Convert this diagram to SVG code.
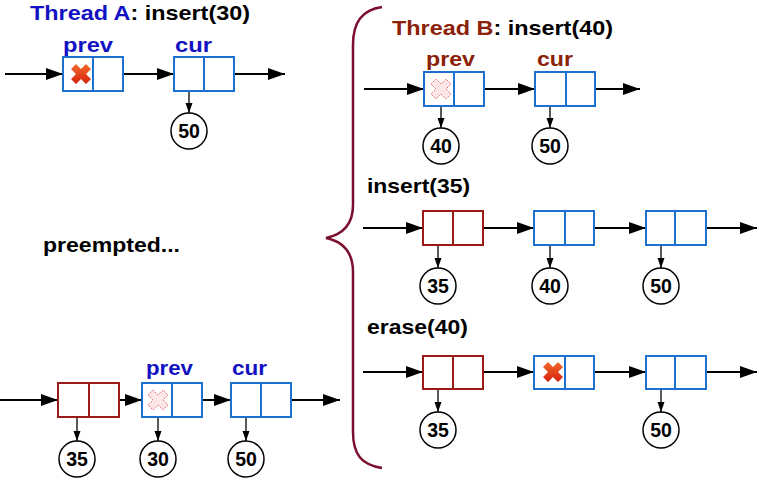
<svg xmlns="http://www.w3.org/2000/svg" width="763" height="484" viewBox="0 0 763 484">
<defs>
<style>
.t{font-family:"Liberation Sans",Arial,sans-serif;font-weight:bold;font-size:21px;fill:#000}
.ta{fill:#1212c4}
.tb{fill:#8b2208}
.num{font-family:"Liberation Sans",Arial,sans-serif;font-weight:bold;font-size:19.5px;fill:#000;text-anchor:middle}
.bb{fill:#fff;stroke:#1b70d0;stroke-width:2}
.rb{fill:#fff;stroke:#9a1a1a;stroke-width:2}
.ln{fill:none;stroke:#000;stroke-width:1.8;marker-end:url(#ah)}
.dn{fill:none;stroke:#000;stroke-width:1.3;marker-end:url(#sh)}
.c{fill:#fff;stroke:#000;stroke-width:1.5}
.xr{fill:url(#xg)}
.xl{fill:#fde6e6;stroke:#e07070;stroke-width:1;stroke-dasharray:1.5,1}
</style>
<linearGradient id="xg" x1="0" y1="0" x2="0" y2="1">
<stop offset="0" stop-color="#f46a2a"/>
<stop offset="1" stop-color="#d3200f"/>
</linearGradient>
<marker id="ah" markerUnits="userSpaceOnUse" markerWidth="18" markerHeight="13" refX="17" refY="6" orient="auto">
<path d="M0,0 L17,6 L0,12 z" fill="#000"/>
</marker>
<marker id="sh" markerUnits="userSpaceOnUse" markerWidth="11" markerHeight="8" refX="10" refY="3.5" orient="auto">
<path d="M0,0 L10,3.5 L0,7 z" fill="#000"/>
</marker>
<path id="xm" d="M-10,-5 L-5,-10 L0,-5 L5,-10 L10,-5 L5,0 L10,5 L5,10 L0,5 L-5,10 L-10,5 L-5,0 z"/>
</defs>
<rect width="763" height="484" fill="#fff"/>

<g id="labels">
<text class="t" x="30" y="20" textLength="220" lengthAdjust="spacingAndGlyphs"><tspan class="ta">Thread A</tspan>: insert(30)</text>
<text class="t" x="392" y="35" textLength="221" lengthAdjust="spacingAndGlyphs"><tspan class="tb">Thread B</tspan>: insert(40)</text>
<text class="t" x="367" y="193" textLength="103" lengthAdjust="spacingAndGlyphs">insert(35)</text>
<text class="t" x="367" y="334" textLength="101" lengthAdjust="spacingAndGlyphs">erase(40)</text>
<text class="t" x="43" y="252" textLength="137" lengthAdjust="spacingAndGlyphs">preempted...</text>
<text class="t ta" x="63" y="52" textLength="50" lengthAdjust="spacingAndGlyphs">prev</text>
<text class="t ta" x="175" y="52" textLength="37" lengthAdjust="spacingAndGlyphs">cur</text>
<text class="t tb" x="426" y="66" textLength="49" lengthAdjust="spacingAndGlyphs">prev</text>
<text class="t tb" x="537" y="66" textLength="36" lengthAdjust="spacingAndGlyphs">cur</text>
<text class="t ta" x="146" y="375" textLength="47" lengthAdjust="spacingAndGlyphs">prev</text>
<text class="t ta" x="232" y="375" textLength="35" lengthAdjust="spacingAndGlyphs">cur</text>
</g>

<g id="brace">
<path d="M382,7 C362,10 353,22 353,45 L353,205 C353,222 345,234 326,238 C345,242 353,254 353,272 L353,432 C353,455 362,465 382,468" fill="none" stroke="#7a0f2e" stroke-width="2.5"/>
</g>

<g id="connectors">
<line class="ln" x1="5" y1="74" x2="63" y2="74"/>
<line class="ln" x1="110" y1="74" x2="174" y2="74"/>
<line class="ln" x1="221" y1="74" x2="285" y2="74"/>
<line class="dn" x1="189" y1="91" x2="189" y2="113"/>
<line class="ln" x1="364" y1="89" x2="424" y2="89"/>
<line class="ln" x1="470" y1="89" x2="535" y2="89"/>
<line class="ln" x1="582" y1="89" x2="640" y2="89"/>
<line class="dn" x1="441" y1="106" x2="441" y2="128"/>
<line class="dn" x1="550" y1="106" x2="550" y2="128"/>
<line class="ln" x1="363" y1="228" x2="423" y2="228"/>
<line class="ln" x1="470" y1="228" x2="534" y2="228"/>
<line class="ln" x1="580" y1="228" x2="646" y2="228"/>
<line class="ln" x1="692" y1="228" x2="757" y2="228"/>
<line class="dn" x1="438" y1="245" x2="438" y2="268"/>
<line class="dn" x1="550" y1="245" x2="550" y2="268"/>
<line class="dn" x1="661" y1="245" x2="661" y2="268"/>
<line class="ln" x1="363" y1="372" x2="423" y2="372"/>
<line class="ln" x1="470" y1="372" x2="534" y2="372"/>
<line class="ln" x1="580" y1="372" x2="646" y2="372"/>
<line class="ln" x1="692" y1="372" x2="757" y2="372"/>
<line class="dn" x1="438" y1="389" x2="438" y2="412"/>
<line class="dn" x1="661" y1="389" x2="661" y2="412"/>
<line class="ln" x1="0" y1="400" x2="58" y2="400"/>
<line class="ln" x1="104" y1="400" x2="142" y2="400"/>
<line class="ln" x1="186" y1="400" x2="231" y2="400"/>
<line class="ln" x1="277" y1="400" x2="340" y2="400"/>
<line class="dn" x1="77" y1="417" x2="77" y2="441"/>
<line class="dn" x1="158" y1="417" x2="158" y2="441"/>
<line class="dn" x1="246" y1="417" x2="246" y2="441"/>
</g>

<g id="a-prev"><rect class="bb" x="63" y="57" width="60" height="34"/><line class="bb" x1="93" y1="57" x2="93" y2="91"/><use href="#xm" class="xr" transform="translate(81,74)"/></g>
<g id="a-cur"><rect class="bb" x="174" y="57" width="60" height="34"/><line class="bb" x1="204" y1="57" x2="204" y2="91"/></g>
<g id="a-50"><circle class="c" cx="189" cy="131" r="18"/><text class="num" x="189" y="138">50</text></g>

<g id="b1-prev"><rect class="bb" x="424" y="72" width="60" height="34"/><line class="bb" x1="454" y1="72" x2="454" y2="106"/><use href="#xm" class="xl" transform="translate(441,89)"/></g>
<g id="b1-cur"><rect class="bb" x="535" y="72" width="60" height="34"/><line class="bb" x1="566" y1="72" x2="566" y2="106"/></g>
<g id="b1-40"><circle class="c" cx="441" cy="146" r="18"/><text class="num" x="441" y="153">40</text></g>
<g id="b1-50"><circle class="c" cx="550" cy="146" r="18"/><text class="num" x="550" y="153">50</text></g>

<g id="b2-n35"><rect class="rb" x="423" y="211" width="60" height="34"/><line class="rb" x1="453" y1="211" x2="453" y2="245"/></g>
<g id="b2-n40"><rect class="bb" x="534" y="211" width="60" height="34"/><line class="bb" x1="565" y1="211" x2="565" y2="245"/></g>
<g id="b2-n50"><rect class="bb" x="646" y="211" width="60" height="34"/><line class="bb" x1="675" y1="211" x2="675" y2="245"/></g>
<g id="b2-35"><circle class="c" cx="438" cy="286" r="18"/><text class="num" x="438" y="293">35</text></g>
<g id="b2-40"><circle class="c" cx="550" cy="286" r="18"/><text class="num" x="550" y="293">40</text></g>
<g id="b2-50"><circle class="c" cx="661" cy="286" r="18"/><text class="num" x="661" y="293">50</text></g>

<g id="b3-n35"><rect class="rb" x="423" y="356" width="60" height="33"/><line class="rb" x1="453" y1="356" x2="453" y2="389"/></g>
<g id="b3-n40"><rect class="bb" x="534" y="356" width="60" height="33"/><line class="bb" x1="565" y1="356" x2="565" y2="389"/><use href="#xm" class="xr" transform="translate(553,372)"/></g>
<g id="b3-n50"><rect class="bb" x="646" y="356" width="60" height="33"/><line class="bb" x1="675" y1="356" x2="675" y2="389"/></g>
<g id="b3-35"><circle class="c" cx="438" cy="430" r="18"/><text class="num" x="438" y="437">35</text></g>
<g id="b3-50"><circle class="c" cx="661" cy="430" r="18"/><text class="num" x="661" y="437">50</text></g>

<g id="c-n35"><rect class="rb" x="58" y="383" width="61" height="34"/><line class="rb" x1="89" y1="383" x2="89" y2="417"/></g>
<g id="c-prev"><rect class="bb" x="142" y="383" width="60" height="34"/><line class="bb" x1="172" y1="383" x2="172" y2="417"/><use href="#xm" class="xl" transform="translate(158,400)"/></g>
<g id="c-cur"><rect class="bb" x="231" y="383" width="60" height="34"/><line class="bb" x1="261" y1="383" x2="261" y2="417"/></g>
<g id="c-35"><circle class="c" cx="77" cy="459" r="18"/><text class="num" x="77" y="466">35</text></g>
<g id="c-30"><circle class="c" cx="158" cy="459" r="18"/><text class="num" x="158" y="466">30</text></g>
<g id="c-50"><circle class="c" cx="246" cy="459" r="18"/><text class="num" x="246" y="466">50</text></g>
</svg>
